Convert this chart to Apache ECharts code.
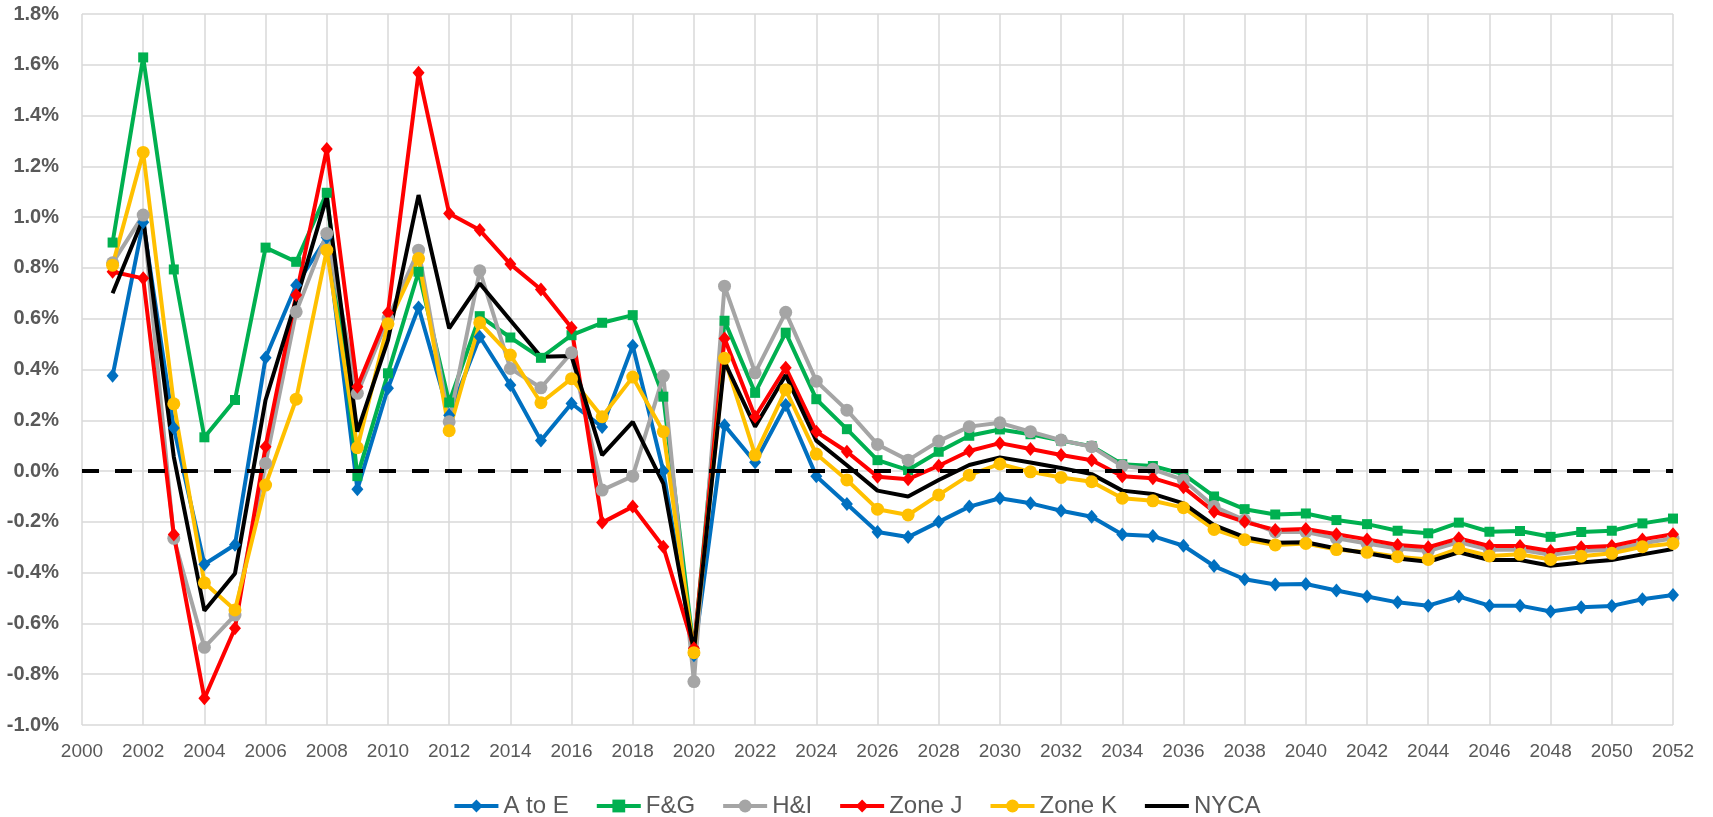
<!DOCTYPE html>
<html>
<head>
<meta charset="utf-8">
<script src="https://cdn.jsdelivr.net/npm/echarts@6/dist/echarts.min.js"></script>
<style>
  html, body { margin: 0; padding: 0; background: #fff; }
  #chart { width: 1713px; height: 817px; }
</style>
</head>
<body>
<div id="chart"></div>
<script>
const years = [2001, 2002, 2003, 2004, 2005, 2006, 2007, 2008, 2009, 2010,
  2011, 2012, 2013, 2014, 2015, 2016, 2017, 2018, 2019, 2020,
  2021, 2022, 2023, 2024, 2025, 2026, 2027, 2028, 2029, 2030,
  2031, 2032, 2033, 2034, 2035, 2036, 2037, 2038, 2039, 2040,
  2041, 2042, 2043, 2044, 2045, 2046, 2047, 2048, 2049, 2050,
  2051, 2052];

// growth rates, in percent
const aToE = [0.375, 0.98, 0.17, -0.367, -0.29, 0.446, 0.732, 0.92, -0.072, 0.326,
  0.644, 0.22, 0.529, 0.339, 0.12, 0.266, 0.174, 0.494, 0.0, -0.725,
  0.18, 0.035, 0.26, -0.02, -0.13, -0.24, -0.26, -0.2, -0.14, -0.107,
  -0.127, -0.156, -0.18, -0.25, -0.256, -0.294, -0.374, -0.426, -0.447, -0.445,
  -0.47, -0.494, -0.517, -0.53, -0.494, -0.53, -0.53, -0.553, -0.536, -0.531,
  -0.505, -0.488];
const fAndG = [0.9, 1.629, 0.794, 0.133, 0.28, 0.88, 0.824, 1.096, -0.02, 0.385,
  0.785, 0.27, 0.61, 0.526, 0.446, 0.535, 0.584, 0.614, 0.293, -0.71,
  0.592, 0.308, 0.545, 0.283, 0.165, 0.043, 0.004, 0.076, 0.139, 0.164,
  0.145, 0.12, 0.098, 0.027, 0.02, -0.012, -0.1, -0.15, -0.171, -0.167,
  -0.193, -0.209, -0.235, -0.245, -0.203, -0.239, -0.236, -0.259, -0.24, -0.235,
  -0.206, -0.187];
const hAndI = [0.82, 1.008, -0.265, -0.694, -0.567, 0.03, 0.627, 0.936, 0.306, 0.6,
  0.87, 0.194, 0.789, 0.404, 0.328, 0.466, -0.075, -0.02, 0.374, -0.829,
  0.728, 0.387, 0.625, 0.354, 0.24, 0.105, 0.043, 0.118, 0.175, 0.19,
  0.155, 0.122, 0.096, 0.02, 0.007, -0.035, -0.14, -0.193, -0.24, -0.24,
  -0.265, -0.285, -0.305, -0.315, -0.28, -0.31, -0.31, -0.33, -0.315, -0.31,
  -0.285, -0.265];
const zoneJ = [0.785, 0.759, -0.25, -0.895, -0.619, 0.096, 0.693, 1.268, 0.332, 0.623,
  1.569, 1.014, 0.949, 0.815, 0.715, 0.564, -0.203, -0.14, -0.298, -0.698,
  0.522, 0.214, 0.407, 0.155, 0.076, -0.022, -0.032, 0.021, 0.079, 0.11,
  0.087, 0.063, 0.043, -0.02, -0.028, -0.064, -0.16, -0.2, -0.232, -0.228,
  -0.249, -0.269, -0.291, -0.3, -0.265, -0.295, -0.295, -0.315, -0.3, -0.295,
  -0.269, -0.249];
const zoneK = [0.811, 1.255, 0.265, -0.44, -0.547, -0.055, 0.283, 0.87, 0.092, 0.58,
  0.837, 0.159, 0.584, 0.457, 0.269, 0.364, 0.214, 0.37, 0.155, -0.715,
  0.444, 0.063, 0.32, 0.067, -0.035, -0.15, -0.173, -0.094, -0.016, 0.028,
  -0.003, -0.025, -0.042, -0.107, -0.117, -0.144, -0.23, -0.27, -0.291, -0.285,
  -0.309, -0.32, -0.337, -0.348, -0.305, -0.334, -0.328, -0.348, -0.335, -0.324,
  -0.298, -0.285];
const nyca = [0.70, 0.995, 0.056, -0.55, -0.403, 0.28, 0.673, 1.08, 0.155, 0.516,
  1.087, 0.562, 0.739, 0.594, 0.45, 0.453, 0.063, 0.194, -0.049, -0.71,
  0.43, 0.175, 0.378, 0.12, 0.023, -0.077, -0.1, -0.035, 0.024, 0.054,
  0.034, 0.012, -0.012, -0.077, -0.09, -0.127, -0.213, -0.26, -0.282, -0.28,
  -0.305, -0.324, -0.344, -0.357, -0.32, -0.35, -0.35, -0.373, -0.36, -0.35,
  -0.328, -0.307];

const font = '"Liberation Sans", Arial, sans-serif';

const pairs = (vals) => vals.map((v, i) => [years[i], v]);

const mkSeries = (name, vals, color, symbol, size) => ({
  name: name,
  type: "line",
  data: pairs(vals),
  symbol: symbol,
  symbolSize: size,
  showSymbol: symbol !== "none",
  lineStyle: { color: color, width: 4 },
  itemStyle: { color: color },
});

const chart = echarts.init(document.getElementById("chart"));

const series = [
  mkSeries("A to E", aToE, "#0070C0", "diamond", [12, 14]),
  mkSeries("F&G", fAndG, "#00B050", "rect", 10),
  mkSeries("H&I", hAndI, "#A5A5A5", "circle", 13),
  mkSeries("Zone J", zoneJ, "#FF0000", "diamond", [12, 14]),
  mkSeries("Zone K", zoneK, "#FFC000", "circle", 13),
  mkSeries("NYCA", nyca, "#000000", "none", 0),
];
// dashed zero line
series[0].markLine = {
  silent: true,
  symbol: "none",
  label: { show: false },
  lineStyle: { color: "#000", width: 4, type: [17, 16] },
  data: [{ yAxis: 0 }],
};

chart.setOption({
  animation: false,
  grid: { left: 82, right: 40, top: 14, bottom: 92 },
  legend: {
    top: 789,
    left: "center",
    itemWidth: 44,
    itemHeight: 16,
    itemGap: 26,
    lineStyle: { width: 4 },
    textStyle: { fontFamily: font, fontSize: 24, color: "#595959" },
    data: [
      "A to E", "F&G", "H&I", "Zone J", "Zone K",
      { name: "NYCA", itemStyle: { opacity: 0 } },
    ],
  },
  xAxis: {
    type: "value",
    min: 2000,
    max: 2052,
    interval: 2,
    axisLine: { show: false },
    axisTick: { show: false },
    splitLine: { show: true, lineStyle: { color: "#d9d9d9", width: 1.5 } },
    axisLabel: {
      margin: 17,
      color: "#595959",
      fontFamily: font,
      fontSize: 19,
      formatter: (v) => String(v),
    },
  },
  yAxis: {
    type: "value",
    min: -1.0,
    max: 1.8,
    interval: 0.2,
    axisLine: { show: false },
    axisTick: { show: false },
    splitLine: { show: true, lineStyle: { color: "#d9d9d9", width: 1.5 } },
    axisLabel: {
      margin: 23,
      color: "#595959",
      fontFamily: font,
      fontSize: 20,
      fontWeight: "bold",
      formatter: (v) => v.toFixed(1) + "%",
    },
  },
  series: series,
});
</script>
</body>
</html>
